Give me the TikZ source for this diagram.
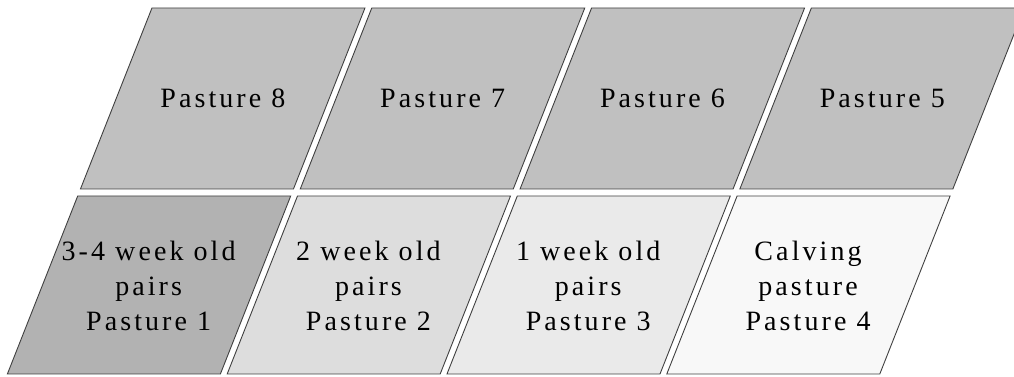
\documentclass[tikz,border=0pt]{standalone}
\usepackage{fontspec}
\setmainfont{Liberation Serif}[LetterSpace=11]
\usepackage{xcolor}
\usetikzlibrary{positioning}
\definecolor{upperfield}{RGB}{192,192,192}
\definecolor{fieldone}{RGB}{178,178,178}
\definecolor{fieldtwo}{RGB}{221,221,221}
\definecolor{fieldthree}{RGB}{234,234,234}
\definecolor{fieldfour}{RGB}{248,248,248}

\begin{document}
\begin{tikzpicture}[x=1pt, y=1pt,
  cell/.style={draw=black!75, line width=0.9pt},
  padtext/.style={align=center, inner sep=0pt, font=\fontsize{28}{35}\selectfont}]
  \useasboundingbox (0,0) rectangle (1014,377);
  \begin{scope}[xslant=0.395]
    % upper row
    \foreach \i/\num in {0/8, 1/7, 2/6, 3/5} {
      \draw[cell, fill=upperfield] (6.2+219.8*\i,188) rectangle ++(213,181);
      \node[padtext] (p\num) at (6.2+219.8*\i+106.5,279) {Pasture \num};
    }
    % lower row
    \foreach \i/\num/\shade/\txt in {0/1/fieldone/{3-4 week old\\pairs},
        1/2/fieldtwo/{2 week old\\pairs}, 2/3/fieldthree/{1 week old\\pairs},
        3/4/fieldfour/{Calving\\pasture}} {
      \draw[cell, fill=\shade] (6.2+219.8*\i,3) rectangle ++(213,178);
      \node[padtext] (p\num) at (6.2+219.8*\i+106.5,91) {\txt\\Pasture \num};
    }
  \end{scope}
\end{tikzpicture}
\end{document}
